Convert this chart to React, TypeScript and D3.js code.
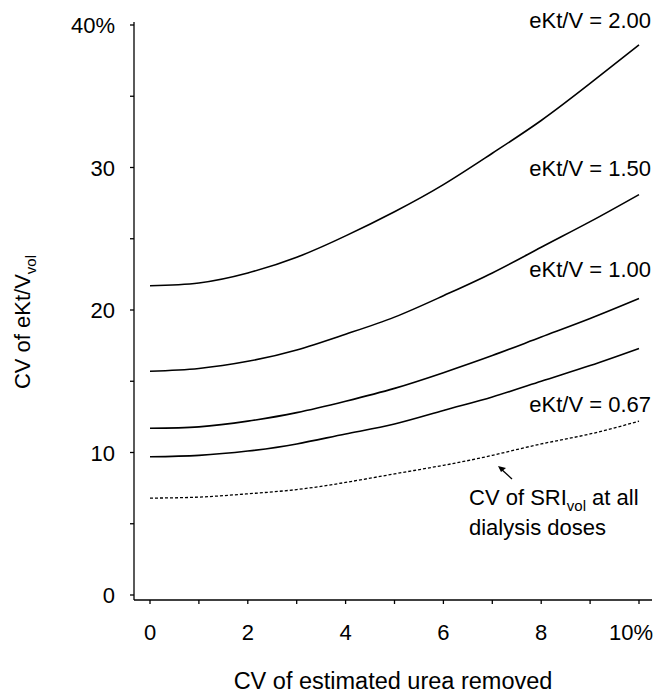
import React from "react";
import * as d3 from "d3";

const xValues = [0, 1, 2, 3, 4, 5, 6, 7, 8, 9, 10];
const series200 = [21.7, 21.9, 22.6, 23.7, 25.2, 26.9, 28.8, 31.0, 33.3, 35.9, 38.6];
const series150 = [15.7, 15.9, 16.4, 17.2, 18.3, 19.5, 21.0, 22.6, 24.4, 26.2, 28.1];
const series100 = [11.7, 11.8, 12.2, 12.8, 13.6, 14.5, 15.6, 16.8, 18.1, 19.4, 20.8];
const series067 = [9.7, 9.8, 10.1, 10.6, 11.3, 12.0, 12.95, 13.9, 15.0, 16.1, 17.3];
const seriesSRI = [6.8, 6.87, 7.1, 7.4, 7.9, 8.5, 9.1, 9.8, 10.6, 11.3, 12.2];

const seriesLabels = ["eKt/V = 2.00", "eKt/V = 1.50", "eKt/V = 1.00", "eKt/V = 0.67"];
const xTickLabels = ["0", "2", "4", "6", "8", "10%"];
const yTickLabels = ["0", "10", "20", "30", "40%"];

const FONT = "'Liberation Sans', Arial, Helvetica, sans-serif";

export default function App() {
  const x = d3.scaleLinear().domain([0, 10]).range([150, 639]);
  const y = d3.scaleLinear().domain([0, 40]).range([595, 25]);
  const line = d3
    .line<number>()
    .x((_, i) => x(xValues[i]))
    .y((d) => y(d))
    .curve(d3.curveNatural);

  const solid = [series200, series150, series100, series067];
  const labelY = [28, 176, 277, 412];
  const xMajor = d3.range(0, 11, 2);
  const xMinor = d3.range(0, 11, 1);
  const yMajor = d3.range(0, 41, 10);
  const yMinor = d3.range(0, 41, 5);
  const axisX = 134;
  const axisY = 600;

  return (
    <svg
      width={655}
      height={696}
      style={{ position: "absolute", left: 0, top: 0, background: "#fff" }}
      fontFamily={FONT}
    >
      <rect x={0} y={0} width={655} height={696} fill="#fff" />
      {/* y axis */}
      <line x1={axisX} x2={axisX} y1={y(40) - 3} y2={axisY} stroke="#000" strokeWidth={1.3} />
      {yMinor.map((v) => (
        <line key={"ym" + v} x1={axisX - 4} x2={axisX} y1={y(v)} y2={y(v)} stroke="#000" strokeWidth={1.3} />
      ))}
      {yMajor.map((v, i) => (
        <text key={"yl" + v} x={115} y={y(v) + 8} textAnchor="end" fontSize={22} fill="#000">
          {yTickLabels[i]}
        </text>
      ))}
      {/* x axis */}
      <line x1={axisX} x2={652} y1={axisY} y2={axisY} stroke="#000" strokeWidth={1.3} />
      {xMinor.map((v) => (
        <line key={"xm" + v} x1={x(v)} x2={x(v)} y1={axisY} y2={axisY + 4} stroke="#000" strokeWidth={1.3} />
      ))}
      {xMajor.map((v, i) => {
        const last = i === xMajor.length - 1;
        return (
          <text
            key={"xl" + v}
            x={last ? 653 : x(v)}
            y={640}
            textAnchor={last ? "end" : "middle"}
            fontSize={22}
            fill="#000"
          >
            {xTickLabels[i]}
          </text>
        );
      })}
      {/* axis titles */}
      <text x={393} y={689} textAnchor="middle" fontSize={23.5} fill="#000">
        CV of estimated urea removed
      </text>
      <text transform="translate(30,322) rotate(-90)" textAnchor="middle" fontSize={22} fill="#000">
        CV of eKt/V
        <tspan fontSize={15} dy={6}>vol</tspan>
      </text>
      {/* curves */}
      {solid.map((s, i) => (
        <path key={"c" + i} d={line(s) || ""} fill="none" stroke="#000" strokeWidth={1.6} />
      ))}
      <path d={line(seriesSRI) || ""} fill="none" stroke="#000" strokeWidth={1.3} strokeDasharray="3,2" />
      {/* series labels */}
      {seriesLabels.map((t, i) => (
        <text key={"sl" + i} x={651} y={labelY[i]} textAnchor="end" fontSize={22} fill="#000">
          {t}
        </text>
      ))}
      {/* SRI annotation */}
      <text x={469} y={505} fontSize={22} fill="#000">
        CV of SRI<tspan fontSize={15} dy={6}>vol</tspan>
        <tspan dy={-6}> at all</tspan>
      </text>
      <text x={469} y={535} fontSize={22} fill="#000">
        dialysis doses
      </text>
      <line x1={512} y1={479} x2={500} y2={468} stroke="#000" strokeWidth={1.3} />
      <path d="M498,466 L506,468 L501,472 Z" fill="#000" />
    </svg>
  );
}
